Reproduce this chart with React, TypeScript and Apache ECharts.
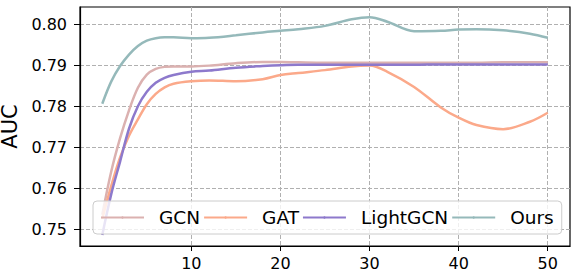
import React, { useEffect, useRef } from "react";
import * as echarts from "echarts";

const epochs = [0, 1, 2, 3, 4, 5, 6, 7, 8, 10, 12, 15, 18, 20, 22, 25, 28, 30, 32, 35, 38, 40, 42, 45, 48, 50];
const gcn = [0.7535, 0.764, 0.7722, 0.779, 0.7845, 0.7877, 0.7891, 0.7896, 0.7897, 0.7897, 0.7899, 0.7905, 0.7908, 0.7908, 0.7907, 0.7906, 0.7906, 0.7906, 0.7906, 0.7906, 0.7906, 0.7906, 0.7906, 0.7907, 0.7907, 0.7907];
const gat = [0.7525, 0.7605, 0.7675, 0.7728, 0.7768, 0.7805, 0.783, 0.7846, 0.7855, 0.7861, 0.7863, 0.7861, 0.7866, 0.7876, 0.7881, 0.7888, 0.7897, 0.7899, 0.7884, 0.7847, 0.7797, 0.7772, 0.7754, 0.7744, 0.7762, 0.7784];
const lightgcn = [0.7486, 0.7585, 0.7665, 0.7745, 0.78, 0.7835, 0.7857, 0.7869, 0.7876, 0.7884, 0.7887, 0.7894, 0.7898, 0.79, 0.7901, 0.7901, 0.7901, 0.7901, 0.7901, 0.7901, 0.7902, 0.7902, 0.7902, 0.7902, 0.7902, 0.7902];
const ours = [0.7806, 0.786, 0.7898, 0.7926, 0.7947, 0.796, 0.7966, 0.7968, 0.7968, 0.7966, 0.7967, 0.7973, 0.798, 0.7984, 0.7988, 0.7996, 0.8012, 0.8017, 0.8006, 0.7983, 0.7984, 0.7987, 0.7988, 0.7985, 0.7977, 0.7967];

const seriesNames = ["GCN", "GAT", "LightGCN", "Ours"];
const seriesColors = ["#dbb1b0", "#fba98a", "#8d79cc", "#95b9ba"];
const xTicks = [10, 20, 30, 40, 50];
const yTicks = [0.75, 0.76, 0.77, 0.78, 0.79, 0.8];

const FONT = "DejaVu Sans";

export default function App() {
  const ref = useRef<HTMLDivElement>(null);
  useEffect(() => {
    if (!ref.current) return;
    const chart = echarts.init(ref.current, null, { renderer: "svg" });
    const all = [gcn, gat, lightgcn, ours];
    chart.setOption({
      animation: false,
      backgroundColor: "#ffffff",
      grid: {
        left: 80,
        top: 7,
        right: 12,
        bottom: 28,
        containLabel: false,
        outerBoundsMode: "none",
        show: true,
        borderColor: "#000000",
        borderWidth: 1.2,
        backgroundColor: "transparent",
      },
      legend: {
        data: seriesNames,
        left: 93,
        top: 201,
        orient: "horizontal",
        itemWidth: 43,
        itemHeight: 3,
        itemGap: 3,
        padding: [7, 8, 7, 7],
        backgroundColor: "rgba(255,255,255,0.8)",
        borderColor: "#cccccc",
        borderWidth: 1,
        borderRadius: 4,
        textStyle: { fontFamily: FONT, fontSize: 18.5, color: "#000", padding: [0, 0, 0, 10] },
      },
      xAxis: {
        type: "value",
        min: -2.5,
        max: 52.5,
        axisLine: { show: true, onZero: false, lineStyle: { color: "#000", width: 1.2 } },
        axisTick: { show: true, length: 5, customValues: xTicks, lineStyle: { color: "#000", width: 1 } },
        axisLabel: { customValues: xTicks, fontFamily: FONT, fontSize: 16, color: "#000", margin: 9 },
        splitLine: { show: true, lineStyle: { color: "#b0b0b0", type: [4, 2], width: 1 } },
      },
      yAxis: {
        type: "value",
        min: 0.7459,
        max: 0.8042,
        name: "AUC",
        nameLocation: "middle",
        nameGap: 51,
        nameTextStyle: { fontFamily: FONT, fontSize: 21, lineHeight: 16, color: "#000" },
        axisLine: { show: true, onZero: false, lineStyle: { color: "#000", width: 1.2 } },
        axisTick: { show: true, length: 6, customValues: yTicks, lineStyle: { color: "#000", width: 1 } },
        axisLabel: {
          customValues: yTicks,
          fontFamily: FONT,
          fontSize: 16,
          color: "#000",
          margin: 13,
          formatter: (v: number) => v.toFixed(2),
        },
        splitLine: { show: true, lineStyle: { color: "#b0b0b0", type: [4, 2], width: 1 } },
      },
      series: seriesNames.map((name, i) => ({
        name,
        type: "line",
        data: epochs.map((e, j) => [e, all[i][j]]),
        smooth: 0.35,
        symbol: "none",
        clip: true,
        lineStyle: { color: seriesColors[i], width: 2.5 },
        itemStyle: { color: seriesColors[i] },
      })),
    });
    return () => chart.dispose();
  }, []);
  return <div ref={ref} style={{ position: "fixed", left: 0, top: 0, width: 582, height: 274 }} />;
}
